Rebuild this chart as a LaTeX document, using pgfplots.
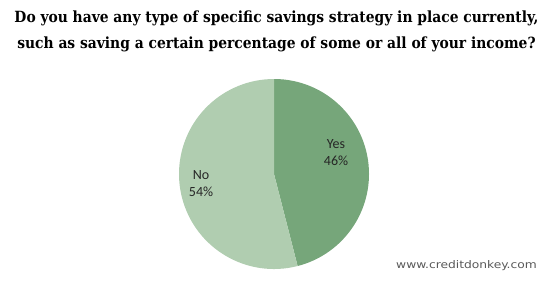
\documentclass[border=0pt]{standalone}
\usepackage{pgfplots}
\usepackage{pgfplotstable}
\pgfplotsset{compat=1.18}
\usepackage{fontspec}
\setmainfont{Carlito}
\newfontfamily\titlefont{DejaVu Serif Condensed}
\newfontfamily\wmfont{DejaVu Sans Condensed}
\definecolor{yescol}{HTML}{76A67A}
\definecolor{nocol}{HTML}{B0CDB0}
\pgfplotstableread{
label value
Yes 46
No 54
}\piedata
\begin{document}
\begin{tikzpicture}
\pgfplotstablegetelem{0}{value}\of\piedata \let\yesval\pgfplotsretval
\pgfplotstablegetelem{1}{value}\of\piedata \let\noval\pgfplotsretval
\begin{axis}[
  width=550bp, height=280bp, scale only axis,
  xmin=0, xmax=550, ymin=0, ymax=280,
  hide axis, clip=false,
]
\path[use as bounding box] (axis cs:0,0) rectangle (axis cs:550,280);
\pgfmathsetmacro{\yesend}{90-3.6*\yesval}
\fill[yescol] (axis cs:274,106) -- ++(90:95bp) arc[start angle=90, end angle=\yesend, radius=95bp] -- cycle;
\fill[nocol] (axis cs:274,106) -- ++(\yesend:95bp) arc[start angle=\yesend, end angle=\yesend-3.6*\noval, radius=95bp] -- cycle;
\node[font=\fontsize{14bp}{17bp}\selectfont, align=center, text=black!85] at (axis cs:336,127.5) {Yes\\\yesval\%};
\node[font=\fontsize{14bp}{17bp}\selectfont, align=center, text=black!85] at (axis cs:201,96) {No\\\noval\%};
\node[font=\titlefont\bfseries\fontsize{15.4bp}{26bp}\selectfont, align=center] at (axis cs:276.5,248.5) {Do you have any type of specific savings strategy in place currently,\\such as saving a certain percentage of some or all of your income?};
\node[font=\wmfont\fontsize{10.5bp}{12bp}\selectfont, text=black!65] at (axis cs:466.5,14) {\scalebox{1.3}[1]{www.creditdonkey.com}};
\end{axis}
\end{tikzpicture}
\end{document}
